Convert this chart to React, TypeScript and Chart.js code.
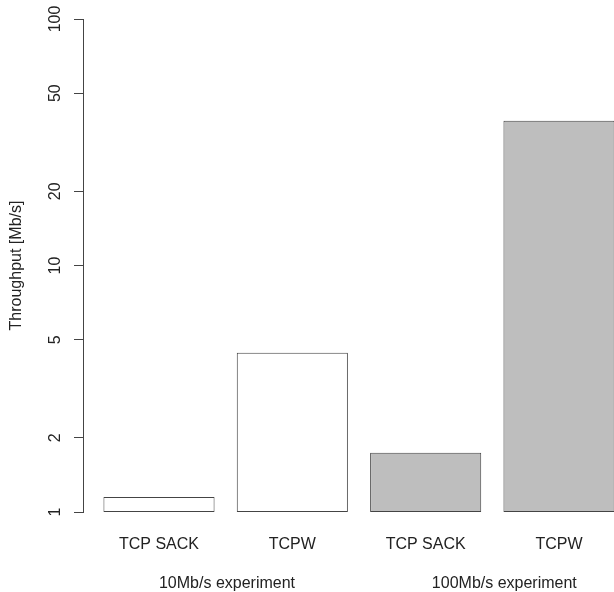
import React, { useEffect, useRef } from "react";
import { Chart, registerables } from "chart.js";

Chart.register(...registerables);

const categories = ["TCP SACK", "TCPW", "TCP SACK", "TCPW"];
const throughput = [1.15, 4.43, 1.74, 38.7];
const barColors = ["#ffffff", "#ffffff", "#bebebe", "#bebebe"];
const groupLabels = ["10Mb/s experiment", "100Mb/s experiment"];
const groupPositions = [0.51, 2.59];
const yTicks = [1, 2, 5, 10, 20, 50, 100];

const FONT = "'Liberation Sans', Arial, Helvetica, sans-serif";
const FS = 16;
const X_MIN = -0.57;
const X_MAX = 3.4125;

export default function App() {
  const ref = useRef<HTMLCanvasElement | null>(null);

  useEffect(() => {
    document.body.style.margin = "0";
    document.body.style.overflow = "hidden";
    const canvas = ref.current;
    if (!canvas) return;
    const chart = new Chart(canvas, {
      type: "bar",
      data: {
        datasets: [
          {
            data: throughput.map((v, i) => ({ x: i, y: v })),
            backgroundColor: barColors,
            borderColor: "#444444",
            borderWidth: 1,
            borderSkipped: false,
            categoryPercentage: 1,
            barPercentage: 1 / 1.2,
            xAxisID: "x",
            yAxisID: "y",
          },
        ],
      },
      options: {
        responsive: false,
        animation: false,
        devicePixelRatio: 1,
        layout: { padding: { top: 19, left: 0, right: 0, bottom: 0 } },
        plugins: { legend: { display: false }, tooltip: { enabled: false } },
        scales: {
          x: {
            type: "linear",
            position: "bottom",
            offset: false,
            weight: 0,
            min: X_MIN,
            max: X_MAX,
            grid: { display: false, drawTicks: false, offset: false },
            border: { display: false },
            afterBuildTicks: (s: any) => {
              s.ticks = categories.map((_, i) => ({ value: i }));
            },
            afterFit: (s: any) => {
              s.height = 52;
            },
            ticks: {
              padding: 23,
              color: "#222",
              font: { family: FONT, size: FS },
              maxRotation: 0,
              minRotation: 0,
              autoSkip: false,
              callback: (_v: any, i: number) => categories[i],
            },
          },
          x2: {
            type: "linear",
            position: "bottom",
            offset: false,
            weight: 1,
            min: X_MIN,
            max: X_MAX,
            grid: { display: false, drawTicks: false, offset: false },
            border: { display: false },
            afterBuildTicks: (s: any) => {
              s.ticks = groupPositions.map((v) => ({ value: v }));
            },
            afterFit: (s: any) => {
              s.height = 28;
            },
            ticks: {
              padding: 9.5,
              color: "#222",
              font: { family: FONT, size: FS },
              maxRotation: 0,
              minRotation: 0,
              autoSkip: false,
              callback: (_v: any, i: number) => groupLabels[i],
            },
          },
          y: {
            type: "logarithmic",
            position: "left",
            min: 1,
            max: 100,
            afterBuildTicks: (s: any) => {
              s.ticks = yTicks.map((v) => ({ value: v }));
            },
            afterFit: (s: any) => {
              s.width = 83;
            },
            grid: {
              display: true,
              drawOnChartArea: false,
              drawTicks: true,
              tickLength: 9,
              color: "#444444",
              lineWidth: 1,
            },
            border: { display: true, color: "#444444", width: 1 },
            ticks: {
              padding: 5.5,
              crossAlign: "center",
              minRotation: 90,
              maxRotation: 90,
              autoSkip: false,
              color: "#222",
              font: { family: FONT, size: FS },
              callback: (v: any) => String(v),
            },
            title: {
              display: true,
              text: "Throughput [Mb/s]",
              color: "#222",
              font: { family: FONT, size: FS },
              padding: { top: 7.4, bottom: 0 },
            },
          },
        },
      },
    } as any);
    return () => chart.destroy();
  }, []);

  return (
    <div style={{ position: "absolute", left: 0, top: 0, width: 614, height: 592, overflow: "hidden", background: "#fff" }}>
      <canvas ref={ref} width={614} height={592} style={{ display: "block" }} />
    </div>
  );
}
